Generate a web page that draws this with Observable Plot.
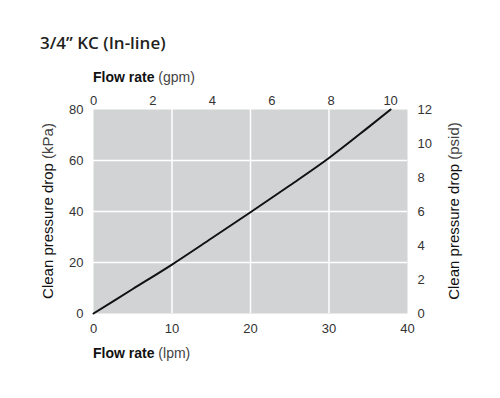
<!DOCTYPE html>
<html><head><meta charset="utf-8">
<script src="https://cdn.jsdelivr.net/npm/d3@7"></script>
<script src="https://cdn.jsdelivr.net/npm/@observablehq/plot@0.6"></script>
<style>
html,body{margin:0;padding:0;background:#fff;}
#wrap{width:500px;height:398px;position:relative;overflow:hidden;}
#title{position:absolute;left:40px;top:32px;font-family:"Open Sans",sans-serif;font-weight:600;font-size:17px;line-height:22px;color:#231f20;white-space:nowrap;}
#chart{position:absolute;left:0;top:60px;}
</style></head>
<body><div id="wrap"><div id="title">3/4” KC (In-line)</div><div id="chart"></div></div>
<script>
const flowLpm = [0, 5, 10, 15, 20, 25, 30, 35, 37.85];
const dropKPa = [0, 9.6, 19.2, 29.4, 39.7, 50.2, 61, 73.0, 80];
const lpmTicks = [0, 10, 20, 30, 40];
const gpmTicks = [0, 2, 4, 6, 8, 10];
const kPaTicks = [0, 20, 40, 60, 80];
const psidTicks = [0, 2, 4, 6, 8, 10, 12];
const LPM_PER_GPM = 3.785;
const KPA_PER_PSID = 80 / 12;

const data = flowLpm.map((x, i) => ({x, y: dropKPa[i]}));
const font = "'Liberation Sans', Arial, sans-serif";
const tickStyle = {tickSize: 0, label: null, fill: "#333", fontSize: 13};

const chart = Plot.plot({
  width: 500, height: 338,
  marginTop: 49, marginBottom: 85, marginLeft: 93, marginRight: 93,
  x: {domain: [0, 40]},
  y: {domain: [0, 80]},
  style: {fontFamily: font, fontSize: "13px", color: "#333", background: "transparent"},
  marks: [
    Plot.frame({fill: "#d1d3d4", stroke: null}),
    Plot.gridX(lpmTicks.slice(1, -1), {stroke: "#fff", strokeOpacity: 1, strokeWidth: 1.5}),
    Plot.gridY(kPaTicks.slice(1, -1), {stroke: "#fff", strokeOpacity: 1, strokeWidth: 1.5}),
    Plot.axisX(lpmTicks, {anchor: "bottom", tickPadding: 10, ...tickStyle}),
    Plot.axisX(gpmTicks.map(g => g * LPM_PER_GPM), {anchor: "top", tickPadding: 5, tickFormat: d => Math.round(d / LPM_PER_GPM), ...tickStyle}),
    Plot.axisY(kPaTicks, {anchor: "left", tickPadding: 10, ...tickStyle}),
    Plot.axisY(psidTicks.map(p => p * KPA_PER_PSID), {anchor: "right", tickPadding: 10, tickFormat: d => Math.round(d / KPA_PER_PSID), ...tickStyle}),
    Plot.line(data, {x: "x", y: "y", stroke: "#111", strokeWidth: 2, curve: "monotone-x"})
  ]
});
document.getElementById("chart").appendChild(chart);

const svg = d3.select(chart);
function label(x, y, first, light, rotate, weight, size) {
  const t = svg.append("text")
    .attr("transform", `translate(${x},${y})` + (rotate ? ` rotate(${rotate})` : ""))
    .attr("text-anchor", rotate ? "middle" : "start")
    .attr("font-family", font).attr("font-size", size).attr("fill", "#111");
  t.append("tspan").attr("font-weight", weight).text(first + " ");
  t.append("tspan").attr("font-weight", "normal").attr("fill", "#444").text(light);
}
label(93, 22, "Flow rate", "(gpm)", 0, "bold", 14);
label(93, 298, "Flow rate", "(lpm)", 0, "bold", 14);
label(53, 151, "Clean pressure drop", "(kPa)", -90, "normal", 15);
label(459, 151, "Clean pressure drop", "(psid)", -90, "normal", 15);
</script></body></html>
